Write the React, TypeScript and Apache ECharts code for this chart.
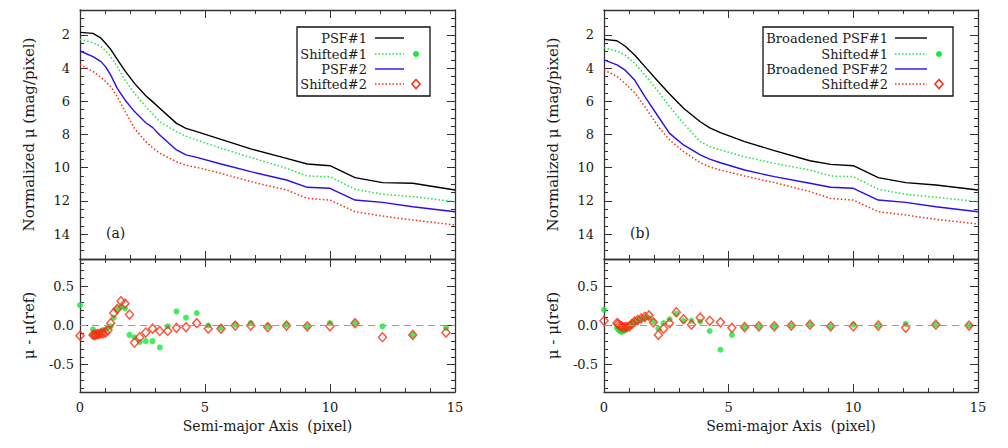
import React, { useEffect, useRef } from "react";
import * as echarts from "echarts";

const FONT = "DejaVu Serif";
const TEXT = "#1a1a1a";
const AXIS = "#333";
const GREEN = "#14e83a";
const RED = "#ff2a12";
const BLUE = "#2a0cf0";
const BLACK = "#000";

// ---------- profile curves, panel (a) ----------
const profXA = [0, 0.52, 0.84, 1.02, 1.23, 1.49, 1.8, 2.18, 2.63, 2.9, 3.19, 3.86, 4.24, 4.67, 5.64, 6.83, 8.26, 9.09, 10.0, 11.0, 12.1, 13.31, 15];
const psf1A = [1.85, 1.91, 2.2, 2.5, 2.87, 3.47, 4.17, 4.92, 5.66, 6.02, 6.42, 7.33, 7.63, 7.83, 8.29, 8.87, 9.44, 9.78, 9.88, 10.6, 10.9, 10.94, 11.34];
const shift1A = [2.27, 2.47, 2.71, 2.95, 3.31, 3.91, 4.72, 5.52, 6.32, 6.75, 7.23, 7.83, 8.1, 8.33, 8.83, 9.38, 10.04, 10.5, 10.54, 11.3, 11.6, 11.74, 12.05];
const psf2A = [2.97, 3.31, 3.61, 3.91, 4.42, 5.22, 5.92, 6.62, 7.29, 7.57, 8.03, 8.93, 9.23, 9.38, 9.78, 10.24, 10.74, 11.18, 11.24, 11.95, 12.09, 12.35, 12.65];
const shift2A = [3.77, 4.2, 4.56, 4.8, 5.12, 5.72, 6.6, 7.63, 8.43, 8.8, 9.13, 9.64, 9.85, 9.98, 10.34, 10.84, 11.34, 11.85, 11.95, 12.65, 12.91, 13.15, 13.45];

// ---------- profile curves, panel (b) ----------
const profXB = [0, 0.52, 0.84, 1.23, 1.64, 2.18, 2.63, 3.19, 3.86, 4.24, 4.67, 5.64, 6.83, 8.26, 9.09, 10.0, 11.0, 12.1, 13.31, 15];
const psf1B = [2.27, 2.35, 2.67, 3.21, 3.91, 4.82, 5.56, 6.42, 7.23, 7.6, 7.89, 8.43, 8.97, 9.58, 9.8, 9.88, 10.6, 10.9, 11.04, 11.34];
const shift1B = [2.77, 2.98, 3.21, 3.71, 4.42, 5.42, 6.32, 7.33, 8.43, 8.73, 8.93, 9.34, 9.74, 10.14, 10.5, 10.54, 11.3, 11.6, 11.78, 12.05];
const psf2B = [3.51, 3.81, 4.11, 4.72, 5.72, 6.93, 7.93, 8.63, 9.23, 9.48, 9.7, 10.14, 10.54, 10.94, 11.18, 11.24, 11.95, 12.09, 12.35, 12.65];
const shift2B = [4.11, 4.5, 4.92, 5.48, 6.32, 7.53, 8.33, 9.03, 9.7, 9.95, 10.14, 10.5, 10.9, 11.44, 11.85, 11.95, 12.65, 12.85, 13.11, 13.39];

// ---------- residuals ----------
const smaPts = [0, 0.52, 0.57, 0.63, 0.69, 0.76, 0.84, 0.92, 1.02, 1.12, 1.23, 1.35, 1.49, 1.64, 1.8, 1.98, 2.18, 2.39, 2.63, 2.9, 3.19, 3.51, 3.86, 4.24, 4.67, 5.13, 5.64, 6.21, 6.83, 7.51, 8.26, 9.09, 10.0, 11.0, 12.1, 13.31, 14.64];
const resA1 = [0.26, -0.05, -0.12, -0.12, -0.11, -0.1, -0.08, -0.06, -0.05, -0.03, -0.01, 0.1, 0.21, 0.24, 0.22, -0.12, -0.15, -0.21, -0.2, -0.2, -0.28, -0.01, 0.18, 0.1, 0.16, 0.0, -0.03, 0.01, 0.03, -0.01, 0.01, -0.01, 0.03, 0.03, -0.01, -0.12, -0.03];
const resA2 = [-0.13, -0.12, -0.12, -0.12, -0.11, -0.11, -0.1, -0.1, -0.09, -0.06, 0.03, 0.16, 0.21, 0.31, 0.28, 0.14, -0.22, -0.15, -0.09, -0.04, -0.07, -0.07, -0.03, -0.02, 0.03, -0.04, -0.04, 0.0, 0.0, -0.02, 0.0, -0.01, -0.01, 0.03, -0.15, -0.12, -0.09];
const resB1 = [0.2, -0.03, -0.05, -0.07, -0.08, -0.08, -0.06, -0.03, -0.01, 0.02, 0.04, 0.06, 0.08, 0.1, 0.1, 0.05, -0.04, 0.03, 0.08, 0.15, 0.06, 0.06, 0.05, -0.07, -0.31, -0.12, -0.02, -0.01, -0.01, 0.0, 0.01, -0.01, 0.01, 0.0, 0.02, 0.01, 0.0];
const resB2 = [0.06, 0.03, 0.02, 0.0, -0.01, -0.02, -0.02, -0.02, -0.01, 0.02, 0.05, 0.07, 0.09, 0.11, 0.13, 0.04, -0.12, -0.04, 0.03, 0.17, 0.08, 0.01, 0.1, 0.06, 0.04, -0.03, -0.02, -0.01, -0.01, 0.0, 0.01, -0.01, -0.01, 0.0, -0.03, 0.01, 0.0];

// ---------- ticks & labels ----------
const profTicks = [2, 4, 6, 8, 10, 12, 14];
const profMinor = [1, 1.5, 2.5, 3, 3.5, 4.5, 5, 5.5, 6.5, 7, 7.5, 8.5, 9, 9.5, 10.5, 11, 11.5, 12.5, 13, 13.5, 14.5, 15];
const resTicks = [-0.5, 0, 0.5];
const resMinor = [-0.8, -0.7, -0.6, -0.4, -0.3, -0.2, -0.1, 0.1, 0.2, 0.3, 0.4, 0.6, 0.7, 0.8];
const legendA = ["PSF#1", "Shifted#1", "PSF#2", "Shifted#2"];
const legendB = ["Broadened PSF#1", "Shifted#1", "Broadened PSF#2", "Shifted#2"];
const panelTags = ["(a)", "(b)"];
const yNameProf = "Normalized μ (mag/pixel)";
const yNameRes = "μ - μ(ref)";
const xName = "Semi-major Axis  (pixel)";

const zip = (xs: number[], ys: number[]) => xs.map((x, i) => [x, ys[i]]);

const lineCol = { color: AXIS, width: 1 };

function xAx(grid: number, pos: string, labels: boolean, name?: string) {
  return {
    type: "value", gridIndex: grid, position: pos, min: 0, max: 15, interval: 5,
    axisLine: { show: true, onZero: false, lineStyle: { color: AXIS, width: 1.3 } },
    axisTick: { show: true, inside: true, length: 8, lineStyle: lineCol },
    minorTick: { show: true, splitNumber: 5, length: 4, lineStyle: lineCol },
    splitLine: { show: false }, minorSplitLine: { show: false },
    axisLabel: { show: labels, margin: 9, fontFamily: FONT, fontSize: 13, color: TEXT },
    name: name || "", nameLocation: "middle", nameGap: 27,
    nameTextStyle: { fontFamily: FONT, fontSize: 14, color: TEXT },
  };
}

function yAx(grid: number, pos: string, prof: boolean, major: boolean, labels: boolean, name?: string) {
  const ticks = prof ? profTicks : resTicks;
  return {
    type: "value", gridIndex: grid, position: pos, inverse: prof,
    min: prof ? 0.5 : -0.85, max: prof ? 15.5 : 0.85,
    axisLine: { show: major, onZero: false, lineStyle: { color: AXIS, width: 1.3 } },
    axisTick: { show: true, inside: true, length: major ? 8 : 4, customValues: major ? ticks : (prof ? profMinor : resMinor), lineStyle: lineCol },
    axisLabel: {
      show: labels, customValues: ticks, margin: prof ? 10 : 6,
      fontFamily: FONT, fontSize: 13, color: TEXT,
      formatter: (v: number) => (prof ? String(v) : v.toFixed(1)),
    },
    splitLine: { show: false },
    name: name || "", nameLocation: "middle", nameGap: 44,
    nameTextStyle: { fontFamily: FONT, fontSize: 15, color: TEXT },
  };
}

function legendGraphic(x0: number, w: number, textRight: number, lx1: number, lx2: number, sx: number, labels: string[]) {
  const y0 = 27;
  const rowY = [38, 54, 69, 84];
  const styles = [
    { stroke: BLACK, lineDash: null as any },
    { stroke: GREEN, lineDash: [1.5, 2] },
    { stroke: BLUE, lineDash: null as any },
    { stroke: RED, lineDash: [1.5, 2] },
  ];
  const els: any[] = [
    { type: "rect", shape: { x: x0, y: y0, width: w, height: 69 }, style: { fill: "#fff", stroke: "#111", lineWidth: 1.3 }, z: 100 },
  ];
  labels.forEach((t, i) => {
    const y = rowY[i];
    els.push({ type: "text", x: textRight, y, z: 101, style: { text: t, align: "right", verticalAlign: "middle", fontFamily: FONT, fontSize: 13, fill: TEXT } });
    els.push({ type: "line", z: 101, shape: { x1: lx1, y1: y, x2: lx2, y2: y }, style: { stroke: styles[i].stroke, lineWidth: 1.4, lineDash: styles[i].lineDash } });
  });
  els.push({ type: "circle", z: 101, shape: { cx: sx, cy: rowY[1], r: 3 }, style: { fill: GREEN } });
  els.push({ type: "polygon", z: 101, shape: { points: [[sx, rowY[3] - 4.5], [sx + 4, rowY[3]], [sx, rowY[3] + 4.5], [sx - 4, rowY[3]]] }, style: { fill: "none", stroke: RED, lineWidth: 1.5 } });
  return els;
}

function profSeries(grid: number, xs: number[], ys: number[][]) {
  const cols = [BLACK, GREEN, BLUE, RED];
  const dashed = [false, true, false, true];
  return ys.map((arr, i) => ({
    type: "line", xAxisIndex: 2 * grid, yAxisIndex: 4 * grid,
    data: zip(xs, arr), showSymbol: false, symbol: "none", clip: true,
    lineStyle: { color: cols[i], width: dashed[i] ? 1.5 : 1.4, type: dashed[i] ? [1.5, 2.2] : "solid" },
    z: 2,
  }));
}

function resSeries(grid: number, r1: number[], r2: number[]) {
  return [
    {
      type: "scatter", xAxisIndex: 2 * grid, yAxisIndex: 4 * grid,
      data: zip(smaPts, r1), symbol: "circle", symbolSize: 6, itemStyle: { color: GREEN }, z: 3,
      markLine: {
        silent: true, symbol: ["none", "none"], label: { show: false },
        lineStyle: { color: "#9a9a9a", type: [7, 5], width: 1 },
        data: [{ yAxis: 0 }],
      },
    },
    {
      type: "scatter", xAxisIndex: 2 * grid, yAxisIndex: 4 * grid,
      data: zip(smaPts, r2), symbol: "diamond", symbolSize: [8, 9],
      itemStyle: { color: "rgba(0,0,0,0)", borderColor: RED, borderWidth: 1.5 }, z: 4,
    },
  ];
}

export default function App() {
  const ref = useRef<HTMLDivElement>(null);
  useEffect(() => {
    if (!ref.current) return;
    const chart = echarts.init(ref.current, undefined, { renderer: "svg" });
    const grids = [
      { left: 80, top: 10, width: 375, height: 249 },
      { left: 80, top: 259, width: 375, height: 133 },
      { left: 604, top: 10, width: 374, height: 249 },
      { left: 604, top: 259, width: 374, height: 133 },
    ];
    const xAxes: any[] = [];
    const yAxes: any[] = [];
    grids.forEach((_, g) => {
      const prof = g % 2 === 0;
      xAxes.push(xAx(g, "bottom", !prof, prof ? "" : xName));
      xAxes.push(xAx(g, "top", false));
      yAxes.push(yAx(g, "left", prof, true, true, prof ? yNameProf : yNameRes));
      yAxes.push(yAx(g, "left", prof, false, false));
      yAxes.push(yAx(g, "right", prof, true, false));
      yAxes.push(yAx(g, "right", prof, false, false));
    });
    const option: any = {
      animation: false,
      backgroundColor: "#fff",
      textStyle: { fontFamily: FONT },
      grid: grids.map((g) => ({ ...g, containLabel: false })),
      xAxis: xAxes,
      yAxis: yAxes,
      series: [
        ...profSeries(0, profXA, [psf1A, shift1A, psf2A, shift2A]),
        ...resSeries(1, resA1, resA2),
        ...profSeries(2, profXB, [psf1B, shift1B, psf2B, shift2B]),
        ...resSeries(3, resB1, resB2),
      ],
      graphic: [
        ...legendGraphic(297, 133, 367, 375, 404, 416, legendA),
        ...legendGraphic(763, 190, 888, 895, 927, 939, legendB),
        { type: "text", x: 106, y: 233, style: { text: panelTags[0], verticalAlign: "middle", fontFamily: FONT, fontSize: 14, fill: TEXT } },
        { type: "text", x: 630, y: 233, style: { text: panelTags[1], verticalAlign: "middle", fontFamily: FONT, fontSize: 14, fill: TEXT } },
      ],
    };
    chart.setOption(option);
    return () => chart.dispose();
  }, []);
  return <div ref={ref} style={{ position: "absolute", left: 0, top: 0, width: 1008, height: 448 }} />;
}
